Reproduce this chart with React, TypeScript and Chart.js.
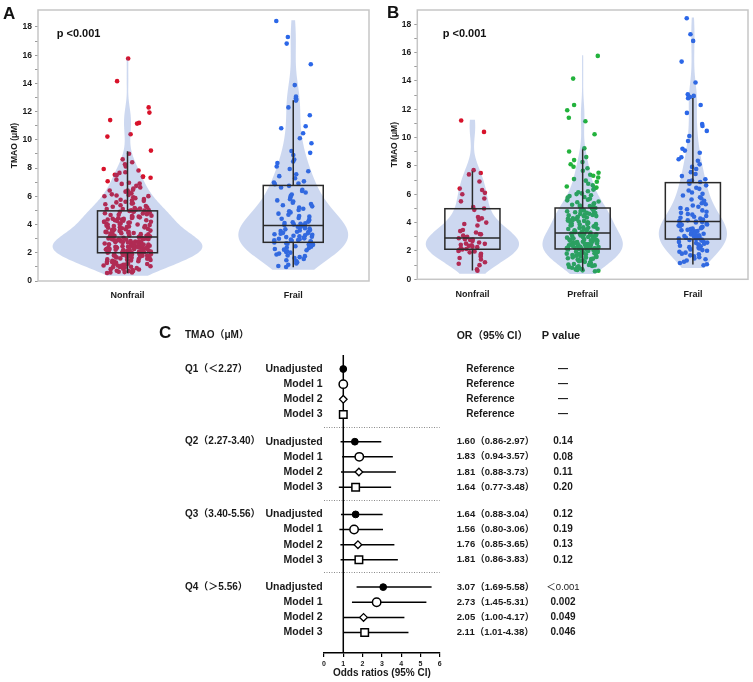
import React, { useEffect, useRef } from 'react';
import { Chart, registerables } from 'chart.js';

Chart.register(...registerables);

const FONT = 'Arial, "Liberation Sans", "Noto Sans CJK SC", sans-serif';

// ---------------- Panels A & B : data ----------------
const categoriesA = ['Nonfrail', 'Frail'];
const categoriesB = ['Nonfrail', 'Prefrail', 'Frail'];
const yLabelTicks = [0, 2, 4, 6, 8, 10, 12, 14, 16, 18];
const yAxisTitle = 'TMAO (μM)';
const pValueLabel = 'p <0.001';

// TMAO (μM), individual participants
const nonfrailTMAO = [
  11.2, 10.4, 7.7, 7.5, 7.4, 6.9, 6.4, 6.3, 6.1, 6.0, 5.7, 5.5, 5.1, 5.0, 4.9,
  4.4, 4.3, 4.2, 4.0, 3.9, 3.8, 3.48, 3.4, 3.3, 3.2, 3.17, 3.08, 3.0, 2.96, 2.9,
  2.83, 2.8, 2.77, 2.7, 2.6, 2.52, 2.5, 2.43, 2.4, 2.36, 2.3, 2.27, 2.2, 2.14, 2.1,
  2.06, 2.0, 1.97, 1.9, 1.8, 1.73, 1.6, 1.5, 1.4, 1.2, 1.1, 1.0, 0.7, 0.6,
];

const prefrailTMAO = [
  15.76, 14.16, 12.3, 11.93, 11.4, 11.15, 10.23, 9.24, 9.02, 8.62, 8.41, 8.27, 8.12,
  7.94, 7.83, 7.66, 7.52, 7.38, 7.31, 7.18, 7.07, 6.96, 6.88, 6.74, 6.63, 6.55, 6.47,
  6.41, 6.33, 6.21, 6.14, 6.06, 6.01, 5.93, 5.87, 5.81, 5.76, 5.68, 5.62, 5.57, 5.49,
  5.44, 5.37, 5.31, 5.26, 5.21, 5.17, 5.13, 5.1, 5.07,
  5.03, 5.01, 4.96, 4.92, 4.91, 4.86, 4.82, 4.8, 4.78, 4.73, 4.69, 4.68, 4.63, 4.61,
  4.56, 4.54, 4.51, 4.46, 4.45, 4.41, 4.36, 4.35, 4.3, 4.27, 4.25, 4.2, 4.19, 4.14,
  4.12, 4.08, 4.04, 4.03, 3.98, 3.96, 3.91, 3.89, 3.86, 3.82, 3.8, 3.77, 3.73, 3.7,
  3.67, 3.64, 3.62, 3.57, 3.55, 3.51, 3.48, 3.46, 3.42, 3.39, 3.36, 3.32, 3.29,
  3.23, 3.21, 3.19, 3.16, 3.15, 3.12, 3.09, 3.07, 3.06, 3.03, 3.01, 2.98, 2.97, 2.94,
  2.92, 2.88, 2.87, 2.85, 2.81, 2.79, 2.77, 2.76, 2.73, 2.7, 2.69, 2.66, 2.65, 2.62,
  2.59, 2.58, 2.56, 2.53, 2.51, 2.49, 2.47, 2.45, 2.43, 2.41, 2.39, 2.37, 2.35, 2.33,
  2.31, 2.29, 2.28, 2.26, 2.24, 2.23, 2.22, 2.2, 2.19, 2.18, 2.17, 2.16, 2.15,
  2.13, 2.11, 2.08, 2.07, 2.04, 2.02, 2.0, 1.97, 1.95, 1.92, 1.89, 1.87, 1.84, 1.81,
  1.79, 1.76, 1.73, 1.71, 1.67, 1.64, 1.62, 1.58, 1.55, 1.53, 1.49, 1.46, 1.43, 1.4,
  1.37, 1.33, 1.31, 1.27, 1.23, 1.21, 1.17, 1.14, 1.1, 1.08, 1.04, 1.01, 0.98, 0.94,
  0.91, 0.87, 0.84, 0.81, 0.77, 0.73, 0.7, 0.66, 0.63, 0.6, 0.57,
];

const frailTMAO = [
  18.42, 17.29, 16.82, 15.36, 13.88, 13.06, 12.94, 12.86, 12.78, 12.3, 11.74, 10.96,
  10.82, 10.47, 10.11, 9.76, 9.21, 9.08, 8.93, 8.61, 8.47, 8.36, 8.11, 7.93, 7.78, 7.56,
  7.43, 7.28, 7.06, 6.97, 6.91, 6.86,
  6.74, 6.63, 6.46, 6.38, 6.27, 6.12, 6.03, 5.91, 5.79, 5.71, 5.63, 5.54, 5.46, 5.37,
  5.29, 5.21, 5.12, 5.03, 4.94, 4.86, 4.77, 4.69, 4.61, 4.56, 4.47, 4.41, 4.34, 4.28,
  4.21, 4.16, 4.11, 4.08,
  4.05, 4.01, 3.96, 3.92, 3.87, 3.84, 3.79, 3.74, 3.71, 3.66, 3.61, 3.58, 3.54, 3.49,
  3.46, 3.41, 3.38, 3.35, 3.31, 3.28, 3.24, 3.21, 3.17, 3.13, 3.11, 3.06, 3.02, 2.99,
  2.96, 2.93, 2.9, 2.88, 2.85,
  2.81, 2.77, 2.73, 2.67, 2.64, 2.59, 2.56, 2.51, 2.46, 2.43, 2.37, 2.33, 2.27, 2.22,
  2.18, 2.11, 2.06, 2.01, 1.94, 1.88, 1.81, 1.76, 1.69, 1.63, 1.56, 1.47, 1.41, 1.33,
  1.24, 1.15, 1.06, 0.99,
];

// Box summaries: [lower whisker, Q1, median, Q3, upper whisker]
const boxNonfrailA = [0.55, 2.0, 3.12, 4.97, 9.2];
const boxFrailA = [0.98, 2.74, 3.94, 6.77, 12.8];
const boxNonfrailB = [0.62, 2.12, 2.92, 4.98, 7.62];
const boxPrefrailB = [0.6, 2.14, 3.27, 5.03, 9.18];
const boxFrailB = [1.05, 2.84, 4.07, 6.82, 12.8];

// ---------------- Panel C : data ----------------
const quartileLabels = ['Q1（＜2.27）', 'Q2（2.27-3.40）', 'Q3（3.40-5.56）', 'Q4（＞5.56）'];
const modelLabels = ['Unadjusted', 'Model 1', 'Model 2', 'Model 3'];
const oddsRatios = [
  [1, 1, 1, 1],
  [1.6, 1.83, 1.81, 1.64],
  [1.64, 1.56, 1.76, 1.81],
  [3.07, 2.73, 2.05, 2.11],
];
const ciLower = [
  [null, null, null, null],
  [0.86, 0.94, 0.88, 0.77],
  [0.88, 0.8, 0.85, 0.86],
  [1.69, 1.45, 1.0, 1.01],
];
const ciUpper = [
  [null, null, null, null],
  [2.97, 3.57, 3.73, 3.48],
  [3.04, 3.06, 3.65, 3.83],
  [5.58, 5.31, 4.17, 4.38],
];
const pValues = [
  ['—', '—', '—', '—'],
  ['0.14', '0.08', '0.11', '0.20'],
  ['0.12', '0.19', '0.13', '0.12'],
  ['＜0.001', '0.002', '0.049', '0.046'],
];
const referenceLabel = 'Reference';
const forestXTitle = 'Odds ratios (95% CI)';
const forestHeaders = ['TMAO（μM）', 'OR（95% CI）', 'P value'];

// ---------------- styles ----------------
const RED = '#d8122a';
const GREEN = '#22b23c';
const BLUE = '#2b67e8';
const VIOLIN_FILL = 'rgba(70,110,200,0.27)';
const BOX_COLOR = '#2a2a2a';
const FRAME_COLOR = '#c6c6c6';
const TEXT = '#1a1a1a';
const GROUP_STEP = 4.8;

function jitter(i: number, seed: number) {
  const s = Math.sin((i + 1) * 12.9898 + seed * 78.233) * 43758.5453;
  return (s - Math.floor(s)) * 2 - 1;
}

function density(vals: number[], h: number, y: number) {
  let s = 0;
  for (const v of vals) {
    const u = (y - v) / h;
    s += Math.exp(-0.5 * u * u);
  }
  return s / (vals.length * h * Math.sqrt(2 * Math.PI));
}

function violinPlugin(
  groups: number[][],
  boxes: number[][],
  violinHalf: number,
  boxHalf: number,
  bandwidths: number[]
) {
  return {
    id: 'violinBox',
    afterDatasetsDraw(chart: any) {
      const { ctx, chartArea: a, scales } = chart;
      const x = scales.x;
      const y = scales.y;
      const profiles = groups.map((vals, gi) => {
        const h = bandwidths[gi];
        const lo = Math.min(...vals) - 0.2;
        const hi = Math.max(...vals) + 0.05;
        const pts: number[][] = [];
        const N = 200;
        for (let i = 0; i <= N; i++) {
          const v = lo + ((hi - lo) * i) / N;
          pts.push([v, density(vals, h, v)]);
        }
        return pts;
      });
      const maxD = Math.max(...profiles.map((p) => Math.max(...p.map((q) => q[1]))));
      const k = violinHalf / maxD;
      ctx.save();
      ctx.beginPath();
      ctx.rect(a.left, a.top, a.right - a.left, a.bottom - a.top);
      ctx.clip();
      ctx.fillStyle = VIOLIN_FILL;
      profiles.forEach((p, gi) => {
        ctx.beginPath();
        p.forEach(([v, d], i) => {
          const px = x.getPixelForValue(gi - d * k);
          const py = y.getPixelForValue(v);
          if (i === 0) ctx.moveTo(px, py);
          else ctx.lineTo(px, py);
        });
        for (let i = p.length - 1; i >= 0; i--) {
          const [v, d] = p[i];
          ctx.lineTo(x.getPixelForValue(gi + d * k), y.getPixelForValue(v));
        }
        ctx.closePath();
        ctx.fill();
      });
      ctx.strokeStyle = BOX_COLOR;
      ctx.lineWidth = 1.5;
      boxes.forEach(([wLo, q1, med, q3, wHi], gi) => {
        const xl = x.getPixelForValue(gi - boxHalf);
        const xr = x.getPixelForValue(gi + boxHalf);
        const xc = x.getPixelForValue(gi);
        const y1 = y.getPixelForValue(q1);
        const y3 = y.getPixelForValue(q3);
        const ym = y.getPixelForValue(med);
        ctx.strokeRect(xl, y3, xr - xl, y1 - y3);
        ctx.beginPath();
        ctx.moveTo(xl, ym);
        ctx.lineTo(xr, ym);
        ctx.moveTo(xc, y3);
        ctx.lineTo(xc, y.getPixelForValue(wHi));
        ctx.moveTo(xc, y1);
        ctx.lineTo(xc, y.getPixelForValue(wLo));
        ctx.stroke();
      });
      ctx.restore();
    },
    afterDraw(chart: any) {
      const { ctx, chartArea: a } = chart;
      ctx.save();
      ctx.strokeStyle = FRAME_COLOR;
      ctx.lineWidth = 1.5;
      ctx.strokeRect(a.left, a.top, a.right - a.left, a.bottom - a.top);
      ctx.restore();
    },
  };
}

interface ViolinOpts {
  cats: string[];
  groups: number[][];
  colors: string[];
  boxes: number[][];
  bandwidths: number[];
  yMax: number;
  xMin: number;
  xMax: number;
  yAxisWidth: number;
  titlePad: number;
  padRight: number;
  xAxisHeight: number;
  xLabelPad: number;
  violinHalf: number;
  boxHalf: number;
  jitterHalf: number[];
  seed: number;
}

function makeViolinChart(canvas: HTMLCanvasElement, o: ViolinOpts) {
  const datasets = o.groups.map((vals, gi) => ({
    data: vals.map((v, i) => ({ x: gi + jitter(i, o.seed + gi) * o.jitterHalf[gi], y: v })),
    backgroundColor: o.colors[gi],
    borderWidth: 0,
    pointRadius: 2.3,
    pointHoverRadius: 2.3,
  }));
  return new Chart(canvas, {
    type: 'scatter',
    data: { datasets } as any,
    options: {
      responsive: false,
      animation: false,
      events: [],
      layout: { padding: { left: 0, top: 10, right: o.padRight, bottom: 0 } },
      plugins: { legend: { display: false }, tooltip: { enabled: false } },
      scales: {
        x: {
          type: 'linear',
          min: o.xMin,
          max: o.xMax,
          afterBuildTicks: (s: any) => {
            s.ticks = o.cats.map((_, i) => ({ value: i }));
          },
          ticks: {
            autoSkip: false,
            maxRotation: 0,
            padding: o.xLabelPad,
            color: TEXT,
            font: { family: FONT, size: 9, weight: 'bold' },
            callback: (v: any) => o.cats[Math.round(v)] ?? '',
          },
          grid: { display: false },
          border: { display: false },
          afterFit: (s: any) => {
            s.height = o.xAxisHeight;
          },
        },
        y: {
          type: 'linear',
          min: 0,
          max: o.yMax,
          afterBuildTicks: (s: any) => {
            const t: any[] = [];
            for (let v = 0; v <= yLabelTicks[yLabelTicks.length - 1]; v++) t.push({ value: v });
            s.ticks = t;
          },
          ticks: {
            autoSkip: false,
            padding: 3,
            color: TEXT,
            font: { family: FONT, size: 8.5, weight: 'bold' },
            callback: (v: any) => (yLabelTicks.includes(v) ? String(v) : ''),
          },
          grid: { drawOnChartArea: false, drawTicks: true, tickLength: 3, color: '#9a9a9a' },
          border: { display: false },
          title: {
            display: true,
            text: yAxisTitle,
            color: TEXT,
            font: { family: FONT, size: 8.5, weight: 'bold' },
            padding: { top: o.titlePad, bottom: 0 },
          },
          afterFit: (s: any) => {
            s.width = o.yAxisWidth;
          },
        },
      },
    } as any,
    plugins: [violinPlugin(o.groups, o.boxes, o.violinHalf, o.boxHalf, o.bandwidths)],
  });
}

// ---- forest layout constants (page px) ----
const COL_Q = 185;
const COL_MODEL_RIGHT = 322.7;
const COL_OR = 456.7;
const COL_REF_CENTER = 490.5;
const COL_P_CENTER = 563;
const COL_P_HEADER = 541.7;

const markerStyles = [
  { pointStyle: 'circle', radius: 3.4, bg: '#000', bw: 1 },
  { pointStyle: 'circle', radius: 4.2, bg: '#fff', bw: 1.5 },
  { pointStyle: 'rectRot', radius: 3.8, bg: '#fff', bw: 1.3 },
  { pointStyle: 'rect', radius: 5.3, bg: '#fff', bw: 1.5 },
];

function rowPos(gi: number, mi: number) {
  return gi * GROUP_STEP + mi;
}

const forestPlugin = {
  id: 'forestExtras',
  beforeDatasetsDraw(chart: any) {
    const { ctx, chartArea: a, scales } = chart;
    const x = scales.x;
    const y = scales.y;
    ctx.save();
    ctx.strokeStyle = '#8a8a8a';
    ctx.lineWidth = 1;
    ctx.setLineDash([1, 1.5]);
    for (let g = 1; g < quartileLabels.length; g++) {
      const py = Math.round(y.getPixelForValue(g * GROUP_STEP - 0.97)) + 0.5;
      ctx.beginPath();
      ctx.moveTo(x.getPixelForValue(0), py);
      ctx.lineTo(x.getPixelForValue(6), py);
      ctx.stroke();
    }
    ctx.setLineDash([]);
    ctx.strokeStyle = '#000';
    ctx.lineWidth = 1.5;
    const x1 = x.getPixelForValue(1);
    ctx.beginPath();
    ctx.moveTo(x1, a.top);
    ctx.lineTo(x1, a.bottom);
    ctx.stroke();
    ctx.lineWidth = 1.5;
    quartileLabels.forEach((_, gi) => {
      modelLabels.forEach((__, mi) => {
        const lo = ciLower[gi][mi];
        const hi = ciUpper[gi][mi];
        if (lo == null || hi == null) return;
        const py = y.getPixelForValue(rowPos(gi, mi));
        ctx.beginPath();
        ctx.moveTo(x.getPixelForValue(lo), py);
        ctx.lineTo(x.getPixelForValue(hi), py);
        ctx.stroke();
      });
    });
    ctx.restore();
  },
  afterDraw(chart: any) {
    const { ctx, scales } = chart;
    const y = scales.y;
    ctx.save();
    ctx.fillStyle = TEXT;
    ctx.textBaseline = 'middle';
    const hy = y.getPixelForValue(-2.2);
    ctx.textAlign = 'left';
    ctx.font = `bold 10px ${FONT}`;
    ctx.fillText(forestHeaders[0], COL_Q, hy);
    ctx.font = `bold 10.5px ${FONT}`;
    ctx.fillText(forestHeaders[1], COL_OR, hy);
    ctx.font = `bold 11px ${FONT}`;
    ctx.fillText(forestHeaders[2], COL_P_HEADER, hy);
    quartileLabels.forEach((q, gi) => {
      const gy = y.getPixelForValue(rowPos(gi, 0));
      ctx.textAlign = 'left';
      ctx.font = `bold 10px ${FONT}`;
      ctx.fillText(q, COL_Q, gy);
      modelLabels.forEach((m, mi) => {
        const py = y.getPixelForValue(rowPos(gi, mi));
        ctx.textAlign = 'right';
        ctx.font = `bold 10.5px ${FONT}`;
        ctx.fillText(m, COL_MODEL_RIGHT, py);
        const lo = ciLower[gi][mi];
        const hi = ciUpper[gi][mi];
        if (lo == null || hi == null) {
          ctx.textAlign = 'center';
          ctx.font = `bold 10px ${FONT}`;
          ctx.fillText(referenceLabel, COL_REF_CENTER, py);
        } else {
          ctx.textAlign = 'left';
          ctx.font = `bold 9.5px ${FONT}`;
          ctx.fillText(
            `${oddsRatios[gi][mi].toFixed(2)}（${lo.toFixed(2)}-${hi.toFixed(2)}）`,
            COL_OR,
            py
          );
        }
        const p = pValues[gi][mi];
        ctx.textAlign = 'center';
        ctx.font = p.startsWith('＜') ? `9.5px ${FONT}` : `bold 10px ${FONT}`;
        ctx.fillText(p, COL_P_CENTER, py);
      });
    });
    ctx.restore();
  },
};

function makeForestChart(canvas: HTMLCanvasElement) {
  const datasets = modelLabels.map((m, mi) => ({
    label: m,
    data: quartileLabels.map((_, gi) => ({ x: oddsRatios[gi][mi], y: rowPos(gi, mi) })),
    pointStyle: markerStyles[mi].pointStyle,
    pointRadius: markerStyles[mi].radius,
    pointHoverRadius: markerStyles[mi].radius,
    backgroundColor: markerStyles[mi].bg,
    borderColor: '#000',
    borderWidth: markerStyles[mi].bw,
  }));
  return new Chart(canvas, {
    type: 'scatter',
    data: { datasets } as any,
    options: {
      responsive: false,
      animation: false,
      events: [],
      layout: { padding: { left: 324, right: 313.3, top: 65, bottom: 0 } },
      plugins: { legend: { display: false }, tooltip: { enabled: false } },
      scales: {
        x: {
          type: 'linear',
          min: 0,
          max: 6,
          ticks: {
            stepSize: 1,
            padding: 3,
            color: TEXT,
            font: { family: FONT, size: 7, weight: 'bold' },
          },
          grid: { drawOnChartArea: false, drawTicks: true, tickLength: 4, color: '#000', lineWidth: 1.2 },
          border: { color: '#000', width: 1.5 },
          title: {
            display: true,
            text: forestXTitle,
            color: TEXT,
            font: { family: FONT, size: 10, weight: 'bold' },
            padding: { top: 0, bottom: 3 },
          },
          afterFit: (s: any) => {
            s.height = 29;
          },
        },
        y: { type: 'linear', display: false, min: -0.925, max: 18.75, reverse: true },
      },
    } as any,
    plugins: [forestPlugin],
  });
}

const letterStyle: React.CSSProperties = {
  position: 'absolute',
  font: `bold 17px ${FONT}`,
  lineHeight: '17px',
  color: '#111',
  whiteSpace: 'nowrap',
};
const pStyle: React.CSSProperties = {
  position: 'absolute',
  font: `bold 11px ${FONT}`,
  lineHeight: '11px',
  color: '#111',
  whiteSpace: 'nowrap',
};

export default function App() {
  const refA = useRef<HTMLCanvasElement>(null);
  const refB = useRef<HTMLCanvasElement>(null);
  const refC = useRef<HTMLCanvasElement>(null);

  useEffect(() => {
    const charts: Chart[] = [];
    if (refA.current) {
      charts.push(
        makeViolinChart(refA.current, {
          cats: categoriesA,
          groups: [[...nonfrailTMAO, ...prefrailTMAO], frailTMAO],
          colors: [RED, BLUE],
          boxes: [boxNonfrailA, boxFrailA],
          bandwidths: [0.72, 1.25],
          yMax: 19.2,
          xMin: -0.54,
          xMax: 1.457,
          yAxisWidth: 38,
          titlePad: 10,
          padRight: 6,
          xAxisHeight: 19,
          xLabelPad: 1,
          violinHalf: 0.452,
          boxHalf: 0.181,
          jitterHalf: [0.145, 0.12],
          seed: 1,
        })
      );
    }
    if (refB.current) {
      charts.push(
        makeViolinChart(refB.current, {
          cats: categoriesB,
          groups: [nonfrailTMAO, prefrailTMAO, frailTMAO],
          colors: [RED, GREEN, BLUE],
          boxes: [boxNonfrailB, boxPrefrailB, boxFrailB],
          bandwidths: [0.9, 0.8, 1.05],
          yMax: 19.0,
          xMin: -0.5,
          xMax: 2.5,
          yAxisWidth: 42.3,
          titlePad: 15,
          padRight: 5,
          xAxisHeight: 20.7,
          xLabelPad: 2,
          violinHalf: 0.423,
          boxHalf: 0.25,
          jitterHalf: [0.13, 0.145, 0.13],
          seed: 7,
        })
      );
    }
    if (refC.current) charts.push(makeForestChart(refC.current));
    return () => charts.forEach((c) => c.destroy());
  }, []);

  return (
    <div
      style={{
        position: 'absolute',
        left: 0,
        top: 0,
        width: 753,
        height: 682,
        background: '#fff',
        overflow: 'hidden',
      }}
    >
      <canvas
        ref={refA}
        width={375}
        height={300}
        style={{ position: 'absolute', left: 0, top: 0, width: 375, height: 300, display: 'block' }}
      />
      <canvas
        ref={refB}
        width={378}
        height={300}
        style={{ position: 'absolute', left: 375, top: 0, width: 378, height: 300, display: 'block' }}
      />
      <canvas
        ref={refC}
        width={753}
        height={392}
        style={{ position: 'absolute', left: 0, top: 290, width: 753, height: 392, display: 'block' }}
      />
      <div style={{ ...letterStyle, left: 3, top: 4.5 }}>A</div>
      <div style={{ ...letterStyle, left: 387, top: 4 }}>B</div>
      <div style={{ ...letterStyle, left: 159, top: 323.7 }}>C</div>
      <div style={{ ...pStyle, left: 56.7, top: 28 }}>{pValueLabel}</div>
      <div style={{ ...pStyle, left: 442.7, top: 28 }}>{pValueLabel}</div>
    </div>
  );
}
